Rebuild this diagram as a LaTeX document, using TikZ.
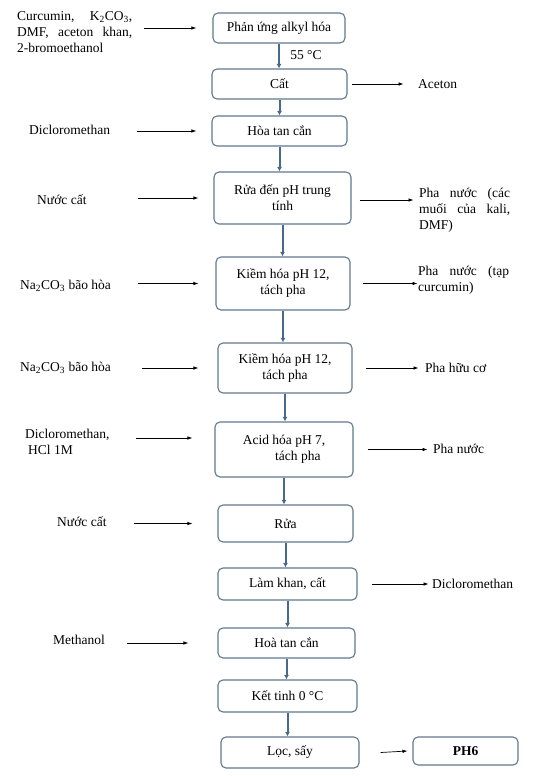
\documentclass[tikz,border=0pt]{standalone}
\usepackage{fontspec}
\setmainfont{Liberation Serif}
\usetikzlibrary{arrows.meta, positioning}
\definecolor{boxline}{RGB}{98,120,142}
\definecolor{flowblue}{RGB}{72,104,140}

\begin{document}
\begin{tikzpicture}[x=1pt, y=-1pt, font=\fontsize{13.5}{16}\selectfont,
    procbox/.style={draw=boxline, line width=1.1pt, rounded corners=5pt, fill=white, align=center, inner sep=2pt},
    flow/.style={draw=flowblue, line width=2pt, -{Latex[length=4.5pt,width=5pt]}},
    feed/.style={draw=black, line width=0.7pt, -{Latex[length=5pt,width=3.5pt]}},
    sidetxt/.style={anchor=west, inner sep=0pt, align=left}]
    \useasboundingbox (0,0) rectangle (535,776);

    % main steps
    \node[procbox, minimum width=132pt, minimum height=30pt] (alkyl) at (279,28) {Phản ứng alkyl hóa};
    \node[procbox, minimum width=135pt, minimum height=30pt] (cat) at (279.5,84) {Cất};
    \node[procbox, minimum width=135pt, minimum height=30pt] (hoatan) at (279.5,131) {Hòa tan cắn};
    \node[procbox, minimum width=137pt, minimum height=52pt] (rua) at (282.5,198) {Rửa đến pH trung\\tính};
    \node[procbox, minimum width=134pt, minimum height=53pt] (kiem) at (283,283.5) {Kiềm hóa pH 12,\\tách pha};
    \node[procbox, minimum width=134pt, minimum height=50pt] (kiemb) at (285,368) {Kiềm hóa pH 12,\\tách pha};
    \node[procbox, minimum width=138pt, minimum height=55pt, align=left] (acid) at (284,449.5) {Acid hóa pH 7,\\\hspace{2.4em}tách pha};
    \node[procbox, minimum width=135pt, minimum height=37pt] (ruab) at (285.5,523.5) {Rửa};
    \node[procbox, minimum width=139pt, minimum height=32pt] (lamkhan) at (287.5,584) {Làm khan, cất};
    \node[procbox, minimum width=137pt, minimum height=30pt] (hoatanb) at (286.5,643) {Hoà tan cắn};
    \node[procbox, minimum width=139pt, minimum height=32pt] (kettinh) at (287.5,696) {Kết tinh 0 °C};
    \node[procbox, minimum width=138pt, minimum height=31pt] (locsay) at (290,752.5) {Lọc, sấy};
    \node[procbox, minimum width=105pt, minimum height=28pt, font=\fontsize{13.5}{16}\selectfont\bfseries] (ph6) at (465.5,751) {PH6};

    % vertical flow
    \draw[flow] (alkyl.south) -- (alkyl.south |- cat.north) node[pos=0.45, right=7pt, black] (t55) {55 °C};
    \draw[flow] (cat.south) -- (cat.south |- hoatan.north);
    \draw[flow] (hoatan.south) -- (hoatan.south |- rua.north);
    \draw[flow] (rua.south) -- (rua.south |- kiem.north);
    \draw[flow] (kiem.south) -- (kiem.south |- kiemb.north);
    \draw[flow] (kiemb.south) -- (kiemb.south |- acid.north);
    \draw[flow] (acid.south) -- (acid.south |- ruab.north);
    \draw[flow] (ruab.south) -- (ruab.south |- lamkhan.north);
    \draw[flow] (lamkhan.south) -- (lamkhan.south |- hoatanb.north);
    \draw[flow] (hoatanb.south) -- (hoatanb.south |- kettinh.north);
    \draw[flow] (kettinh.south) -- (kettinh.south |- locsay.north);

    % inputs
    \node[sidetxt, text width=115pt, align=justify] (inalkyl) at (17,32) {Curcumin, K\textsubscript{2}CO\textsubscript{3},\linebreak DMF, aceton khan,\linebreak 2-bromoethanol};
    \node[sidetxt] (indcm) at (29,130) {Dicloromethan};
    \node[sidetxt] (innuoc) at (37,200) {Nước cất};
    \node[sidetxt] (inna) at (20,286) {Na\textsubscript{2}CO\textsubscript{3} bão hòa};
    \node[sidetxt] (inna2) at (20,368) {Na\textsubscript{2}CO\textsubscript{3} bão hòa};
    \node[sidetxt] (inacid) at (25,442) {Dicloromethan,\\\hspace{3pt}HCl 1M};
    \node[sidetxt] (innuoc2) at (57,522) {Nước cất};
    \node[sidetxt] (inmeoh) at (53,640) {Methanol};

    \draw[feed] ([xshift=-68pt]alkyl.west) -- ([xshift=-16pt]alkyl.west);
    \draw[feed] ([xshift=-74pt]hoatan.west) -- ([xshift=-15pt]hoatan.west);
    \draw[feed] ([xshift=-75pt]rua.west) -- ([xshift=-15pt]rua.west);
    \draw[feed] ([xshift=-77pt]kiem.west) -- ([xshift=-17pt]kiem.west);
    \draw[feed] ([xshift=-75pt]kiemb.west) -- ([xshift=-19pt]kiemb.west);
    \draw[feed] ([xshift=-78pt,yshift=11.5pt]acid.west) -- ([xshift=-22pt,yshift=11.5pt]acid.west);
    \draw[feed] ([xshift=-83pt]ruab.west) -- ([xshift=-25pt]ruab.west);
    \draw[feed] ([xshift=-90pt]hoatanb.west) -- ([xshift=-29pt]hoatanb.west);

    % outputs
    \node[sidetxt] (outaceton) at (418,84) {Aceton};
    \node[sidetxt, text width=91pt, align=justify] (outmuoi) at (419,210) {Pha nước (các\linebreak muối của kali,\linebreak DMF)};
    \node[sidetxt, text width=91pt, align=justify] (outtap) at (418,280) {Pha nước (tạp\linebreak curcumin)};
    \node[sidetxt] (outhuu) at (425,368) {Pha hữu cơ};
    \node[sidetxt] (outnuoc) at (433,449) {Pha nước};
    \node[sidetxt] (outdcm) at (432,584) {Dicloromethan};

    \draw[feed] ([xshift=4pt]cat.east) -- ([xshift=56pt]cat.east);
    \draw[feed] ([xshift=8pt,yshift=-2pt]rua.east) -- ([xshift=62pt,yshift=-2pt]rua.east);
    \draw[feed] ([xshift=12pt]kiem.east) -- ([xshift=67pt]kiem.east);
    \draw[feed] ([xshift=13pt]kiemb.east) -- ([xshift=66pt]kiemb.east);
    \draw[feed] ([xshift=14pt]acid.east) -- ([xshift=74pt]acid.east);
    \draw[feed] ([xshift=14pt]lamkhan.east) -- ([xshift=71pt]lamkhan.east);
    \draw[feed] ([xshift=21pt]locsay.east) -- ([xshift=-5pt]ph6.west);
\end{tikzpicture}
\end{document}
